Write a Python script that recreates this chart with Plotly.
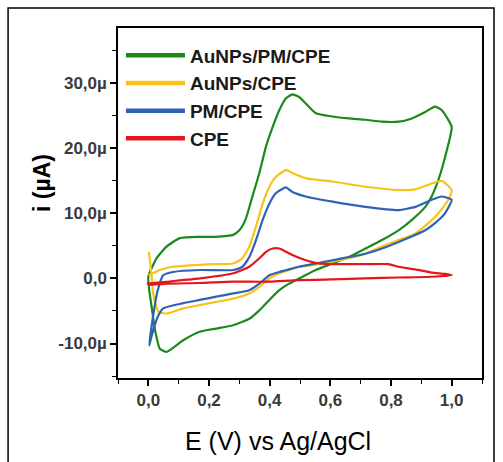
import plotly.graph_objects as go

# ---- data (E in V, i in µA) ----
names = ["AuNPs/PM/CPE", "AuNPs/CPE", "PM/CPE", "CPE"]
colors = ["#1b8a1b", "#f7c316", "#2f62b5", "#e3161d"]

green_E = [0.0, 0.027, 0.06, 0.104, 0.17, 0.22, 0.28, 0.30, 0.32, 0.34, 0.366, 0.388, 0.41, 0.432, 0.454, 0.475,
           0.497, 0.519, 0.552, 0.607, 0.661, 0.716, 0.77, 0.825, 0.869, 0.913, 0.945, 0.967, 1.0,
           0.984, 0.956, 0.934, 0.913, 0.869, 0.825, 0.77, 0.716, 0.661, 0.607, 0.552, 0.497, 0.464, 0.432,
           0.399, 0.366, 0.333, 0.279, 0.224, 0.169, 0.115, 0.06, 0.038, 0.022, 0.011, 0.003, 0.0]
green_i = [0.3, 3.1, 4.9, 6.2, 6.4, 6.4, 6.7, 7.4, 9.0, 12.1, 16.2, 20.3, 23.3, 25.9, 27.7, 28.3,
           27.9, 26.9, 25.4, 24.9, 24.6, 24.4, 24.1, 24.1, 24.6, 25.6, 26.4, 25.9, 23.3,
           19.7, 15.1, 12.6, 11.0, 9.0, 7.4, 5.9, 4.6, 3.3, 2.3, 1.3, 0.0, -0.8, -1.8,
           -3.3, -4.9, -6.2, -7.2, -7.7, -8.2, -9.5, -11.3, -10.8, -7.9, -4.4, -1.8, 0.3]

yellow_E = [0.0, 0.038, 0.08, 0.17, 0.22, 0.28, 0.31, 0.333, 0.355, 0.377, 0.399, 0.42, 0.443, 0.454, 0.475,
            0.519, 0.607, 0.716, 0.825, 0.88, 0.934, 0.967, 1.0,
            0.989, 0.956, 0.923, 0.88, 0.825, 0.77, 0.716, 0.661, 0.607, 0.552, 0.497, 0.464, 0.432, 0.399,
            0.366, 0.333, 0.279, 0.224, 0.169, 0.115, 0.06, 0.033, 0.016, 0.011, 0.005, 0.002]
yellow_i = [0.5, 1.3, 1.8, 2.1, 2.2, 2.3, 3.1, 4.9, 8.0, 11.5, 14.1, 15.6, 16.4, 16.7, 16.2,
            15.4, 14.9, 14.1, 13.6, 13.7, 14.6, 15.0, 13.6,
            12.1, 10.0, 8.5, 6.9, 5.9, 4.9, 3.8, 3.1, 2.6, 2.1, 1.8, 1.3, 0.8, 0.0,
            -1.3, -2.3, -3.1, -3.6, -4.1, -4.6, -5.4, -5.1, -2.3, 0.3, 2.8, 4.1]

blue_E = [0.003, 0.015, 0.03, 0.049, 0.082, 0.17, 0.28, 0.31, 0.333, 0.355, 0.377, 0.399, 0.42, 0.443, 0.454,
          0.475, 0.519, 0.607, 0.716, 0.825, 0.88, 0.934, 0.967, 1.0,
          0.978, 0.945, 0.913, 0.88, 0.825, 0.77, 0.716, 0.661, 0.607, 0.552, 0.497, 0.464, 0.432, 0.399,
          0.366, 0.333, 0.279, 0.224, 0.169, 0.115, 0.049, 0.03, 0.01, 0.003]
blue_i = [-10.3, -6.0, -2.0, 0.5, 1.0, 1.3, 1.3, 1.8, 3.3, 5.9, 9.0, 11.5, 13.1, 13.8, 14.0,
          13.3, 12.6, 11.8, 11.0, 10.5, 11.0, 12.1, 12.6, 12.1,
          10.0, 8.5, 7.4, 6.7, 5.6, 4.6, 3.8, 3.3, 2.8, 2.3, 1.8, 1.4, 1.0, 0.5,
          -0.8, -1.8, -2.3, -2.8, -3.3, -3.8, -4.6, -6.0, -9.0, -10.3]

red_E = [-0.005, 0.06, 0.17, 0.28, 0.333, 0.366, 0.388, 0.41, 0.432, 0.454, 0.475, 0.519, 0.563, 0.607,
         0.716, 0.792, 0.825, 0.88, 0.934, 0.978, 1.0,
         0.934, 0.825, 0.716, 0.607, 0.497, 0.388, 0.279, 0.169, 0.06, 0.0]
red_i = [-0.8, -0.5, 0.0, 0.8, 1.8, 3.1, 4.1, 4.6, 4.6, 4.1, 3.6, 2.8, 2.3, 2.2,
         2.2, 2.2, 1.8, 1.4, 0.9, 0.7, 0.5,
         0.26, 0.15, 0.0, -0.15, -0.26, -0.5, -0.5, -0.7, -0.8, -1.0]

series_E = [green_E, yellow_E, blue_E, red_E]
series_i = [green_i, yellow_i, blue_i, red_i]

y_tickvals = [-10, 0, 10, 20, 30]
y_ticktext = ["-10,0µ", "0,0", "10,0µ", "20,0µ", "30,0µ"]
x_tickvals = [0.0, 0.2, 0.4, 0.6, 0.8, 1.0]
x_ticktext = ["0,0", "0,2", "0,4", "0,6", "0,8", "1,0"]
x_title = "E (V) vs Ag/AgCl"
y_title = "i (µA)"

FONT = "Arial, Liberation Sans, sans-serif"

fig = go.Figure()
for n, c, E, I in zip(names, colors, series_E, series_i):
    # data curve
    fig.add_trace(go.Scatter(x=E, y=I, mode="lines", name=n, showlegend=False, legendgroup=n,
                             line=dict(color=c, width=2.2, shape="spline", smoothing=0.5)))
for n, c in zip(names, colors):
    # legend entry (thicker swatch as in the reference)
    fig.add_trace(go.Scatter(x=[None], y=[None], mode="lines", name=n, legendgroup=n,
                             line=dict(color=c, width=4.5)))

axis_common = dict(showline=True, linecolor="black", linewidth=1.5, mirror=True,
                   ticks="outside", tickcolor="black", ticklen=6, tickwidth=1.5,
                   showgrid=False, zeroline=False,
                   tickfont=dict(family=FONT, size=17, color="#3a3a3a", weight="bold"))

fig.update_xaxes(range=[-0.1, 1.1], tickmode="array", tickvals=x_tickvals, ticktext=x_ticktext,
                 minor=dict(ticks="outside", dtick=0.1, ticklen=4, tickcolor="black", tickwidth=1.2),
                 **axis_common)
fig.update_yaxes(range=[-15.3, 38.5], tickmode="array", tickvals=y_tickvals, ticktext=y_ticktext,
                 minor=dict(ticks="outside", dtick=5, tick0=0, ticklen=4, tickcolor="black", tickwidth=1.2),
                 **axis_common)

fig.update_layout(
    width=503, height=462,
    margin=dict(l=118, r=21, t=28, b=84),
    paper_bgcolor="white", plot_bgcolor="white",
    showlegend=True,
    legend=dict(x=0.008, y=0.976, xanchor="left", yanchor="top", bgcolor="rgba(0,0,0,0)",
                font=dict(family=FONT, size=19, color="#1a1a1a", weight="bold"),
                itemwidth=59, tracegroupgap=0),
    annotations=[
        dict(text=x_title, xref="paper", yref="paper", x=0.44, y=-0.18, showarrow=False,
             xanchor="center", yanchor="middle", font=dict(family=FONT, size=25, color="black")),
        dict(text=y_title, xref="paper", yref="paper", x=-0.209, y=0.557, showarrow=False,
             textangle=-90, xanchor="center", yanchor="middle",
             font=dict(family=FONT, size=23, color="black", weight="bold")),
    ],
    shapes=[dict(type="rect", xref="paper", yref="paper", x0=-0.302, x1=1.033, y0=-0.27, y1=1.057,
                 line=dict(color="black", width=1.5), fillcolor="rgba(0,0,0,0)", layer="below")],
)

fig.write_html("out.html")
